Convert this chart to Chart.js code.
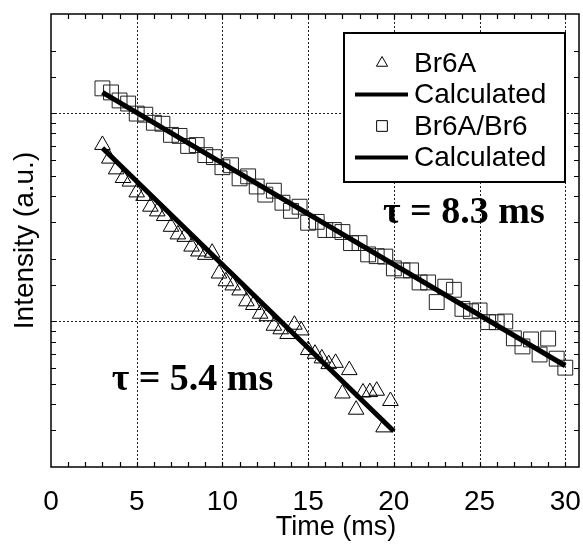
<!DOCTYPE html>
<html>
<head>
<meta charset="utf-8">
<script src="https://cdn.jsdelivr.net/npm/chart.js@4.4.0/dist/chart.umd.min.js"></script>
<style>
  html, body { margin: 0; padding: 0; background: #fff; overflow: hidden; }
  #wrap { width: 583px; height: 546px; }
</style>
</head>
<body>
<div id="wrap"><canvas id="decay"></canvas></div>
<script>
// Br6A emission decay (triangles)
const br6aTime = [3.0, 3.4, 3.8, 4.2, 4.6, 5.0, 5.4, 5.8, 6.2, 6.6, 7.0, 7.4, 7.8, 8.2, 8.6,
  9.0, 9.4, 9.8, 10.2, 10.6, 11.0, 11.4, 11.8, 12.2, 12.6, 13.0, 13.4, 13.8, 14.2, 14.6,
  15.0, 15.4, 15.8, 16.2, 16.6, 17.0, 17.4, 17.8, 18.2, 18.6, 19.0, 19.4, 19.8];
const br6aVal = [0.705, 0.606, 0.538, 0.489, 0.470, 0.417, 0.401, 0.356, 0.338, 0.321, 0.285,
  0.262, 0.255, 0.229, 0.217, 0.209, 0.214, 0.170, 0.156, 0.149, 0.141, 0.125, 0.120, 0.109,
  0.106, 0.0954, 0.0917, 0.0871, 0.0965, 0.0906, 0.0729, 0.0700, 0.0665, 0.0624, 0.0633,
  0.0451, 0.0584, 0.0377, 0.0456, 0.0458, 0.0465, 0.0310, 0.0415];

// Br6A/Br6 emission decay (squares)
const br6Time = [3.0, 3.5, 4.0, 4.5, 5.0, 5.5, 6.0, 6.5, 7.0, 7.5, 8.0, 8.5, 9.0, 9.5, 10.0,
  10.5, 11.0, 11.5, 12.0, 12.5, 13.0, 13.5, 14.0, 14.5, 15.0, 15.5, 16.0, 16.5, 17.0, 17.5,
  18.0, 18.5, 19.0, 19.5, 20.0, 20.5, 21.0, 21.5, 22.0, 22.5, 23.0, 23.5, 24.0, 24.5, 25.0,
  25.5, 26.0, 26.5, 27.0, 27.5, 28.0, 28.5, 29.0, 29.5, 30.0];
const br6Val = [1.318, 1.260, 1.153, 1.114, 0.997, 0.985, 0.901, 0.891, 0.788, 0.779,
  0.697, 0.704, 0.630, 0.616, 0.551, 0.563, 0.487, 0.498, 0.445, 0.407,
  0.425, 0.372, 0.340, 0.356, 0.298, 0.301, 0.275, 0.275, 0.269, 0.238,
  0.238, 0.210, 0.206, 0.205, 0.180, 0.176, 0.176, 0.154, 0.154, 0.124,
  0.147, 0.142, 0.115, 0.112, 0.113, 0.0993, 0.0992, 0.100, 0.0830, 0.0759,
  0.0820, 0.0694, 0.0828, 0.0663, 0.0600];

// single exponential fits (straight on the log axis)
const fitATime = [3, 20];
const fitAVal = [0.681, 0.0297];
const fitBTime = [3, 30];
const fitBVal = [1.26, 0.0613];

const xMajor = [5, 10, 15, 20, 25, 30];
const yMajor = [0.1, 1];
const tauLabels = [
  { text: 'τ = 8.3 ms', x: 19.37, y: 0.298 },
  { text: 'τ = 5.4 ms', x: 3.54, y: 0.047 }
];

const SANS = '"Liberation Sans", Arial, sans-serif';
const SERIF = '"Liberation Serif", "Times New Roman", serif';

function pts(xs, ys) {
  return xs.map((t, i) => ({ x: t, y: ys[i] }));
}

// grid, frame and inward tick marks
const framePlugin = {
  id: 'frame',
  beforeDatasetsDraw(chart) {
    const { ctx, chartArea: a, scales: { x, y } } = chart;
    ctx.save();
    ctx.strokeStyle = '#222';
    ctx.lineWidth = 1;
    ctx.setLineDash([2, 2]);
    xMajor.forEach(v => {
      const px = Math.round(x.getPixelForValue(v)) + 0.5;
      ctx.beginPath(); ctx.moveTo(px, a.top); ctx.lineTo(px, a.bottom); ctx.stroke();
    });
    yMajor.forEach(v => {
      const py = Math.round(y.getPixelForValue(v)) + 0.5;
      ctx.beginPath(); ctx.moveTo(a.left, py); ctx.lineTo(a.right, py); ctx.stroke();
    });
    ctx.setLineDash([]);
    ctx.strokeStyle = '#000';
    ctx.lineWidth = 1.2;
    for (let v = 1; v <= 30; v++) {
      const px = Math.round(x.getPixelForValue(v)) + 0.5;
      ctx.beginPath();
      ctx.moveTo(px, a.top); ctx.lineTo(px, a.top + 5);
      ctx.moveTo(px, a.bottom); ctx.lineTo(px, a.bottom - 5);
      ctx.stroke();
    }
    y.ticks.forEach(t => {
      if (t.value <= y.min || t.value >= y.max) return;
      const py = Math.round(y.getPixelForValue(t.value)) + 0.5;
      ctx.beginPath();
      ctx.moveTo(a.left, py); ctx.lineTo(a.left + 5, py);
      ctx.moveTo(a.right, py); ctx.lineTo(a.right - 5, py);
      ctx.stroke();
    });
    ctx.lineWidth = 1.5;
    ctx.strokeRect(a.left, a.top, a.right - a.left, a.bottom - a.top);
    ctx.restore();
  },
  afterDatasetsDraw(chart) {
    const { ctx, chartArea: a, scales: { x, y } } = chart;
    ctx.save();

    // boxed legend
    const box = { left: a.right - 235, top: a.top + 19, w: 221, h: 149 };
    ctx.fillStyle = '#fff';
    ctx.fillRect(box.left, box.top, box.w, box.h);
    ctx.strokeStyle = '#000';
    ctx.lineWidth = 2;
    ctx.strokeRect(box.left, box.top, box.w, box.h);
    ctx.font = '28px ' + SANS;
    ctx.textBaseline = 'middle';
    ctx.textAlign = 'left';
    chart.data.datasets.forEach((ds, i) => {
      const cy = box.top + 30 + i * 31.5;
      if (ds.showLine) {
        ctx.strokeStyle = '#000';
        ctx.lineWidth = 4;
        ctx.beginPath(); ctx.moveTo(box.left + 11, cy); ctx.lineTo(box.left + 64, cy); ctx.stroke();
      } else {
        ctx.strokeStyle = '#000';
        ctx.fillStyle = 'rgba(0,0,0,0)';
        ctx.lineWidth = 1;
        Chart.helpers.drawPoint(ctx, { pointStyle: ds.pointStyle, radius: ds.pointRadius * 0.72, rotation: 0, borderWidth: 1 }, box.left + 38, cy);
      }
      ctx.fillStyle = '#000';
      ctx.fillText(ds.label, box.left + 70, cy + 1);
    });

    // decay constants
    ctx.font = 'bold 38px ' + SERIF;
    ctx.textBaseline = 'alphabetic';
    tauLabels.forEach(l => {
      ctx.fillText(l.text, x.getPixelForValue(l.x), y.getPixelForValue(l.y));
    });

    // x axis title
    ctx.font = '27px ' + SANS;
    ctx.textAlign = 'center';
    ctx.textBaseline = 'middle';
    ctx.fillText('Time (ms)', a.left + 285, 528);
    ctx.restore();
  }
};

new Chart(document.getElementById('decay'), {
  type: 'scatter',
  data: {
    datasets: [
      {
        label: 'Br6A',
        data: pts(br6aTime, br6aVal),
        pointStyle: 'triangle',
        pointRadius: 9,
        pointBorderWidth: 1,
        borderColor: '#000',
        backgroundColor: 'rgba(0,0,0,0)',
        showLine: false,
        order: 2
      },
      {
        label: 'Calculated',
        data: pts(fitATime, fitAVal),
        showLine: true,
        borderColor: '#000',
        borderWidth: 5,
        pointRadius: 0,
        order: 0
      },
      {
        label: 'Br6A/Br6',
        data: pts(br6Time, br6Val),
        pointStyle: 'rect',
        pointRadius: 10.5,
        pointBorderWidth: 1,
        borderColor: '#222',
        backgroundColor: 'rgba(0,0,0,0)',
        showLine: false,
        order: 3
      },
      {
        label: 'Calculated',
        data: pts(fitBTime, fitBVal),
        showLine: true,
        borderColor: '#000',
        borderWidth: 5,
        pointRadius: 0,
        order: 1
      }
    ]
  },
  options: {
    responsive: true,
    maintainAspectRatio: false,
    animation: false,
    layout: { autoPadding: false, padding: { top: 14, right: 4, left: 0, bottom: 0 } },
    plugins: { legend: { display: false }, tooltip: { enabled: false } },
    scales: {
      x: {
        type: 'linear',
        min: 0,
        max: 30.8,
        grid: { display: false },
        border: { display: false },
        ticks: { stepSize: 5, includeBounds: false, maxRotation: 0, color: '#000', padding: 10,
          font: { family: SANS, size: 28 } },
        afterFit: s => { s.height = 79; s.paddingLeft = 0; s.paddingRight = 0; }
      },
      y: {
        type: 'logarithmic',
        min: 0.02,
        max: 3,
        grid: { display: false },
        border: { display: false },
        ticks: { display: false },
        title: { display: true, text: 'Intensity (a.u.)', color: '#000', padding: { top: 8, bottom: 0 },
          font: { family: SANS, size: 28 } },
        afterFit: s => { s.width = 51; }
      }
    }
  },
  plugins: [framePlugin]
});
</script>
</body>
</html>
